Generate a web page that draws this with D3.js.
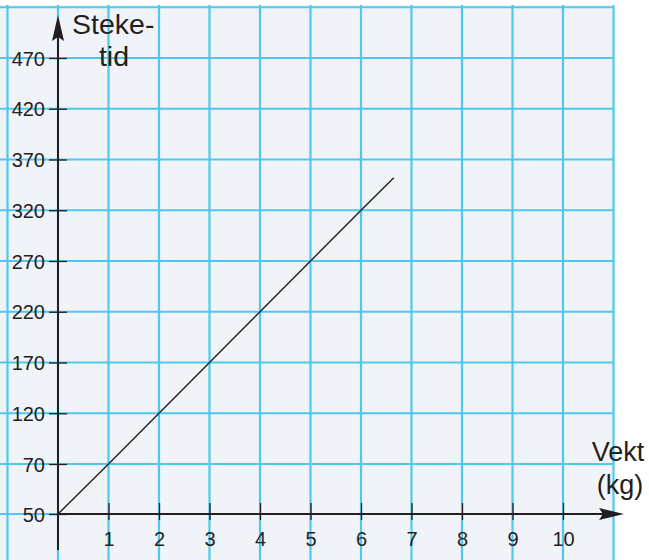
<!DOCTYPE html>
<html>
<head>
<meta charset="utf-8">
<script src="https://cdn.jsdelivr.net/npm/d3@7"></script>
<style>
  body { margin: 0; background: #fff; }
  text { font-family: "Liberation Sans", Arial, Helvetica, sans-serif; fill: #231f20; }
</style>
</head>
<body>
<svg width="649" height="560"></svg>
<script>
// data
const vekt = [0, 1, 2, 3, 4, 5, 6, 6.65];
const steketid = [50, 70, 120, 170, 220, 270, 320, 352];
const xTicks = [1, 2, 3, 4, 5, 6, 7, 8, 9, 10];
const yTicks = [50, 70, 120, 170, 220, 270, 320, 370, 420, 470];
const xGrid = [-1, 0, 1, 2, 3, 4, 5, 6, 7, 8, 9, 10, 11];
const yGrid = [50, 70, 120, 170, 220, 270, 320, 370, 420, 470, 520];

const svg = d3.select('svg');
const gridColor = '#4ec8f2';
const ink = '#231f20';

// scales (y axis has a break: 50 sits one square below 70)
const x = d3.scaleLinear().domain([0, 10]).range([58, 563]);
const y = d3.scaleLinear().domain([50, 70, 470]).range([514, 464, 58]);

// background
svg.append('rect')
  .attr('x', 0).attr('y', 5)
  .attr('width', 614).attr('height', 555)
  .attr('fill', '#f0f4f9');

// grid
const grid = svg.append('g');
grid.selectAll('.vg')
  .data(xGrid)
  .enter().append('line')
  .attr('x1', d => x(d)).attr('x2', d => x(d))
  .attr('y1', 5).attr('y2', 560)
  .attr('stroke', gridColor).attr('stroke-width', 2.2);

grid.selectAll('.hg')
  .data(yGrid)
  .enter().append('line')
  .attr('x1', 0).attr('x2', 614)
  .attr('y1', d => y(d)).attr('y2', d => y(d))
  .attr('stroke', gridColor).attr('stroke-width', 2.2);

// axes
const yAxis = svg.append('g')
  .attr('transform', `translate(${x(0)},0)`)
  .call(d3.axisLeft(y).tickValues(yTicks).tickSize(9));
yAxis.attr('font-size', 20);
yAxis.select('.domain').remove();
yAxis.selectAll('.tick line').attr('x1', -9).attr('x2', 9).attr('stroke', ink).attr('stroke-width', 1.3);
yAxis.selectAll('.tick text')
  .attr('x', -13)
  .attr('dy', '0.36em')
  .style('font-size', '20px')
  .attr('fill', ink);

const xAxis = svg.append('g')
  .attr('transform', `translate(0,${y(50)})`)
  .call(d3.axisBottom(x).tickValues(xTicks).tickSize(6));
xAxis.attr('font-size', 20);
xAxis.select('.domain').remove();
xAxis.selectAll('.tick line').attr('y1', -11).attr('y2', 6).attr('stroke', ink).attr('stroke-width', 1.3);
xAxis.selectAll('.tick text')
  .attr('y', 32)
  .attr('dy', null)
  .style('font-size', '20px')
  .attr('fill', ink);

// axis lines with arrows
svg.append('line')
  .attr('x1', x(0)).attr('x2', x(0))
  .attr('y1', 550).attr('y2', 30)
  .attr('stroke', ink).attr('stroke-width', 2);
svg.append('path')
  .attr('d', `M${x(0)},15 L${x(0) + 6},41 L${x(0)},37 L${x(0) - 6},41 Z`)
  .attr('fill', ink);

svg.append('line')
  .attr('x1', x(0)).attr('x2', 610)
  .attr('y1', y(50)).attr('y2', y(50))
  .attr('stroke', ink).attr('stroke-width', 2);
svg.append('path')
  .attr('d', `M624,${y(50)} L599,${y(50) - 6} L603,${y(50)} L599,${y(50) + 6} Z`)
  .attr('fill', ink);

// the line
const line = d3.line().x((d, i) => x(vekt[i])).y(d => y(d));
svg.append('path')
  .datum(steketid)
  .attr('d', line)
  .attr('fill', 'none')
  .attr('stroke', ink)
  .attr('stroke-width', 1.4);

// axis titles
svg.append('text').attr('x', 72).attr('y', 34).style('font-size', '28.5px').text('Steke-');
svg.append('text').attr('x', 114).attr('y', 66).attr('text-anchor', 'middle').style('font-size', '28.5px').text('tid');
svg.append('text').attr('x', 618).attr('y', 461).attr('text-anchor', 'middle').style('font-size', '27px').text('Vekt');
svg.append('text').attr('x', 620).attr('y', 494).attr('text-anchor', 'middle').style('font-size', '27px').text('(kg)');
</script>
</body>
</html>
